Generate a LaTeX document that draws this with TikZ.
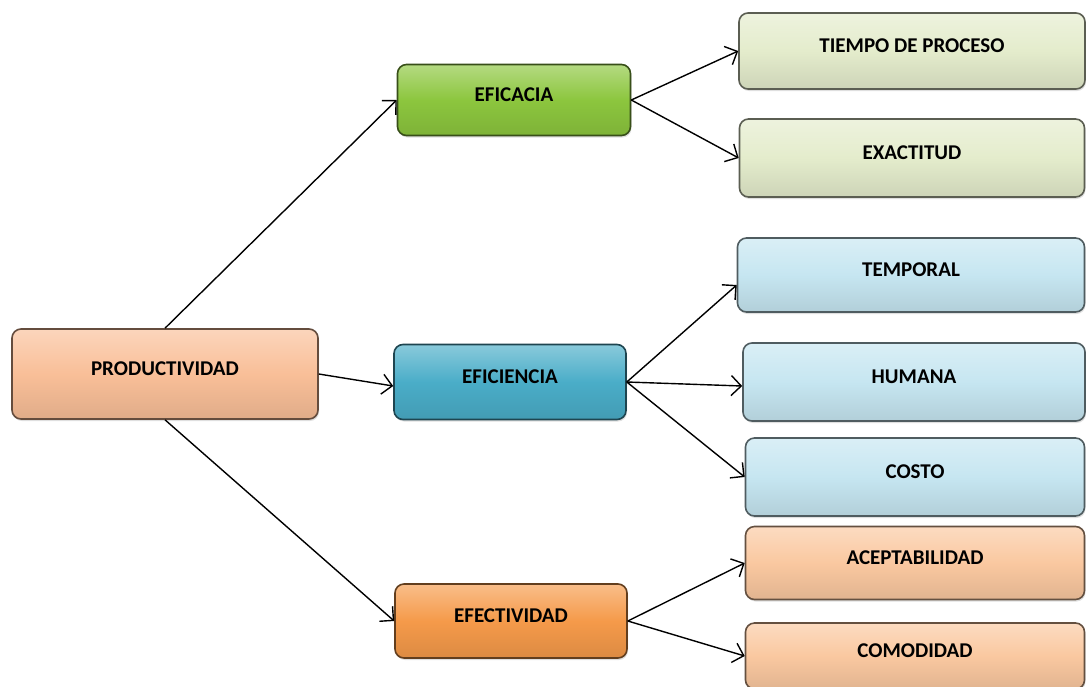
\documentclass[tikz,border=0pt]{standalone}
\usepackage{fontspec}
\setmainfont{Carlito}
\usepackage{xcolor}
\usepackage{tikz}
\usetikzlibrary{arrows.meta, positioning, shadows}

\definecolor{peach}{HTML}{F9BF98}
\definecolor{verde}{HTML}{8CC63E}
\definecolor{azul}{HTML}{4AADC8}
\definecolor{naranja}{HTML}{F59A4A}
\definecolor{verdeclaro}{HTML}{E4ECCC}
\definecolor{azulclaro}{HTML}{C6E6F1}
\definecolor{naranjaclaro}{HTML}{FAC8A0}

\begin{document}
\begin{tikzpicture}[x=1pt, y=-1pt,
  caja/.style={rounded corners=9pt, draw=#1!40!black, line width=1.6pt,
    top color=#1!65!white, bottom color=#1!90!black, middle color=#1,
    font=\fontsize{21}{23}\selectfont\bfseries, text height=13pt, text depth=11pt,
    drop shadow={opacity=0.25, shadow xshift=1pt, shadow yshift=-2pt}},
  flecha/.style={-{Straight Barb[length=10pt,width=20pt]}, line width=1.4pt}]
\useasboundingbox (0,0) rectangle (1086,686);
\node[caja=peach, minimum width=306pt, minimum height=90pt] (prod) at (165,374) {PRODUCTIVIDAD};
\node[caja=verde, minimum width=233pt, minimum height=71pt] (eficacia) at (514,100) {EFICACIA};
\node[caja=azul, minimum width=232pt, minimum height=75pt] (eficiencia) at (510,382) {EFICIENCIA};
\node[caja=naranja, minimum width=232pt, minimum height=74pt] (efectividad) at (511,621) {EFECTIVIDAD};
\node[caja=verdeclaro, minimum width=346pt, minimum height=76pt] (tiempo) at (912,51) {TIEMPO DE PROCESO};
\node[caja=verdeclaro, minimum width=345pt, minimum height=78pt] (exactitud) at (912,158) {EXACTITUD};
\node[caja=azulclaro, minimum width=347pt, minimum height=74pt] (temporal) at (911,275) {TEMPORAL};
\node[caja=azulclaro, minimum width=342pt, minimum height=78pt] (humana) at (914,382) {HUMANA};
\node[caja=azulclaro, minimum width=339pt, minimum height=78pt] (costo) at (915,477) {COSTO};
\node[caja=naranjaclaro, minimum width=339pt, minimum height=73pt] (acept) at (915,563) {ACEPTABILIDAD};
\node[caja=naranjaclaro, minimum width=339pt, minimum height=66pt] (comodidad) at (915,656) {COMODIDAD};
\draw[flecha] (prod.north) -- (eficacia.west);
\draw[flecha] (prod.east) -- ([yshift=-4pt]eficiencia.west);
\draw[flecha] (prod.south) -- (efectividad.west);
\draw[flecha] (eficacia.east) -- (tiempo.west);
\draw[flecha] (eficacia.east) -- (exactitud.west);
\draw[flecha] (eficiencia.east) -- ([yshift=-10pt]temporal.west);
\draw[flecha] (eficiencia.east) -- ([yshift=-4pt]humana.west);
\draw[flecha] (eficiencia.east) -- (costo.west);
\draw[flecha] (efectividad.east) -- (acept.west);
\draw[flecha] (efectividad.east) -- (comodidad.west);
\end{tikzpicture}
\end{document}
